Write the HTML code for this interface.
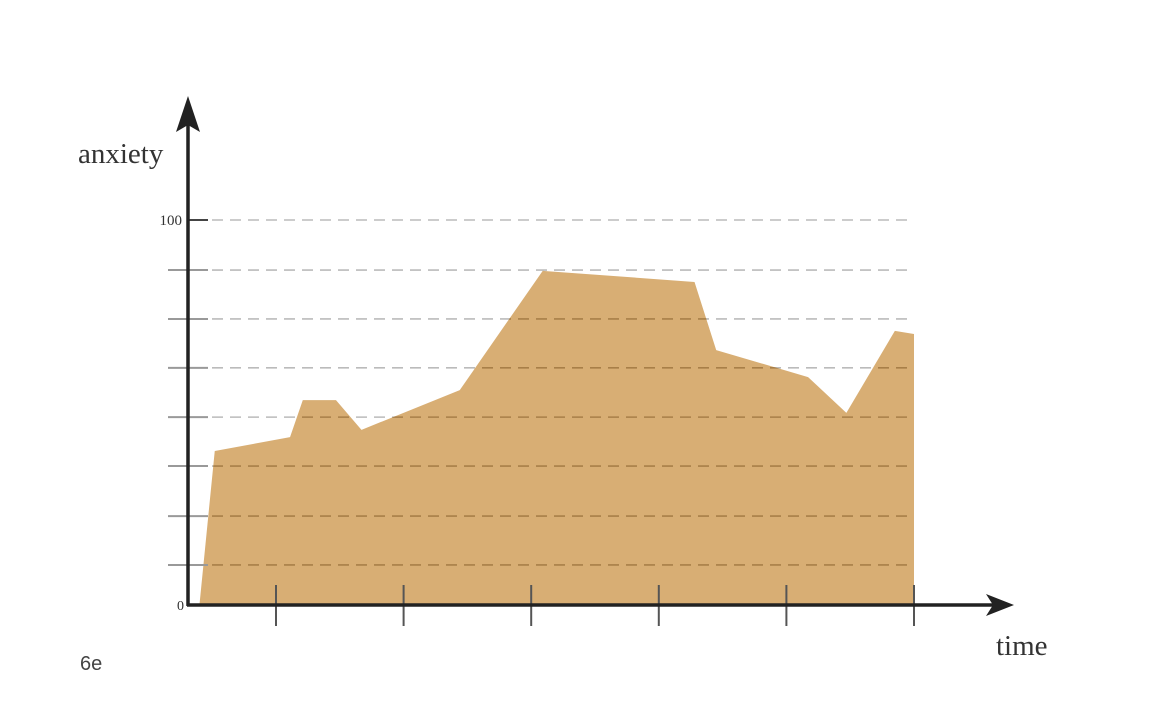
<!DOCTYPE html>
<html><head><meta charset="utf-8"><style>
html,body{margin:0;padding:0;background:#fff;width:1156px;height:720px;overflow:hidden}
</style></head><body>
<svg id="chart" width="1156" height="720" viewBox="0 0 1156 720" xmlns="http://www.w3.org/2000/svg">
<g id="grid"></g>
<path id="area" fill="#d8ae74"/>
<g id="gridOver"></g>
<g id="axes"></g>
<text x="78" y="163" font-family="Liberation Serif, serif" font-size="29" fill="#333">anxiety</text>
<text x="996" y="655" font-family="Liberation Serif, serif" font-size="29" fill="#333">time</text>
<text x="80" y="670" font-family="Liberation Sans, sans-serif" font-size="20" fill="#444">6e</text>
</svg>
<script>
const times=[0.40,0.52,1.11,1.21,1.47,1.67,2.44,3.09,4.28,4.45,5.17,5.47,5.85,6.0];
const anxiety=[0,40,43.6,53.2,53.2,45.5,55.8,86.8,83.9,66.2,59.2,49.9,71.2,70.4];
const gridValues=[100,87,74.3,61.6,48.8,36.1,23.1,10.4];
const xTicks=[1,2,3,4,5,6];
const yLabels=[{v:100,t:"100"},{v:0,t:"0"}];
const X=t=>148.4+127.6*t, Y=v=>605-3.85*v;
const NS="http://www.w3.org/2000/svg";
function mk(tag,attrs,parent){const e=document.createElementNS(NS,tag);for(const k in attrs)e.setAttribute(k,attrs[k]);parent.appendChild(e);return e;}
const grid=document.getElementById('grid'),over=document.getElementById('gridOver'),axes=document.getElementById('axes');
gridValues.forEach(v=>{
 const g=mk('line',{x1:212,x2:910,y1:Y(v),y2:Y(v),stroke:'#bbb','stroke-width':1.6,'stroke-dasharray':'11 7'},grid);
 
 
 const o=mk('line',{x1:212,x2:910,y1:Y(v),y2:Y(v),stroke:'rgba(110,70,20,0.45)','stroke-width':1.6,'stroke-dasharray':'11 7'},over);
 
 
 const tk=mk('line',{x1:v===100?188:168,x2:208,y1:Y(v),y2:Y(v),stroke:v===100?'#444':'#999','stroke-width':2},axes);
 
 
});
let d='M'+X(times[0])+','+Y(0);
times.forEach((t,i)=>{d+=' L'+X(t)+','+Y(anxiety[i]);});
d+=' L'+X(times[times.length-1])+','+Y(0)+' Z';
document.getElementById('area').setAttribute('d',d);
// over-area clip
const cp=mk('clipPath',{id:'cp'},document.getElementById('chart'));
mk('path',{d:d},cp);
over.setAttribute('clip-path','url(#cp)');
xTicks.forEach(t=>{
 const l=mk('line',{x1:X(t),x2:X(t),y1:585,y2:626,stroke:'#555','stroke-width':2},axes);
 
 
});
const ya=mk('line',{x1:188,x2:188,y1:125,y2:606,stroke:'#222','stroke-width':3.5},axes);


const xa=mk('line',{x1:187,x2:995,y1:605,y2:605,stroke:'#222','stroke-width':3.5},axes);


const ha=mk('path',{d:'M188,96 L200,132 L188,125 L176,132 Z',fill:'#222'},axes);


const hx=mk('path',{d:'M1014,605 L986,594 L993,605 L986,616 Z',fill:'#222'},axes);


yLabels.forEach(o=>{
 const t=mk('text',{x:o.v===0?184:182,y:Y(o.v)+5,'text-anchor':'end','font-family':'Liberation Serif, serif','font-size':o.v===0?14:15,fill:'#333'},axes);
 t.textContent=o.t;
 
 
});
</script>
</body></html>
